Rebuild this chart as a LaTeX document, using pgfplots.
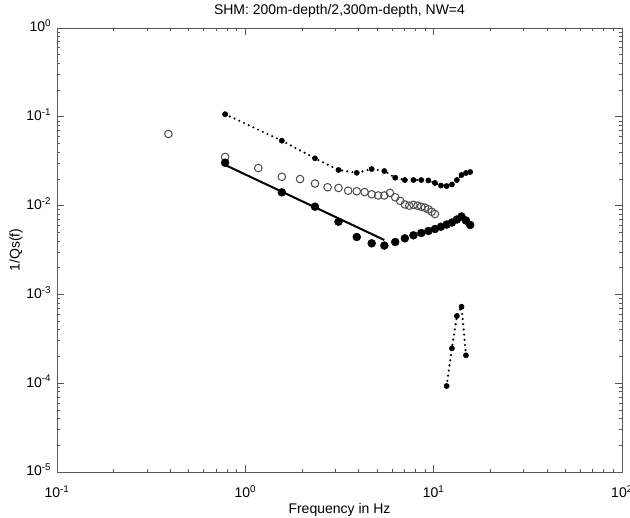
\documentclass[border=0pt]{standalone}
\usepackage{fontspec}
\setmainfont{Liberation Sans}
\usepackage{pgfplots}
\pgfplotsset{compat=1.18}
\newcommand{\tf}{\fontsize{14}{16.8}\selectfont}
\newcommand{\sx}[1]{10\textsuperscript{#1}}
\begin{document}
\tf
\begin{tikzpicture}
\path[use as bounding box] (-57pt,-46pt) rectangle (573pt,472pt);
\begin{axis}[
  at={(0pt,0pt)}, anchor=south west,
  scale only axis, width=565pt, height=444pt,
  xmode=log, ymode=log,
  xmin=0.1, xmax=100, ymin=1e-5, ymax=1,
  xtick={0.1,1,10,100},
  xticklabels={\sx{-1},\sx{0},\sx{1},\sx{2}},
  ytick={1e-5,1e-4,1e-3,1e-2,1e-1,1},
  yticklabels={\sx{-5},\sx{-4},\sx{-3},\sx{-2},\sx{-1},\sx{0}},
  minor xtick={0.2,0.3,0.4,0.5,0.6,0.7,0.8,0.9,2,3,4,5,6,7,8,9,20,30,40,50,60,70,80,90},
  minor ytick={2e-5,3e-5,4e-5,5e-5,6e-5,7e-5,8e-5,9e-5,2e-4,3e-4,4e-4,5e-4,6e-4,7e-4,8e-4,9e-4,2e-3,3e-3,4e-3,5e-3,6e-3,7e-3,8e-3,9e-3,2e-2,3e-2,4e-2,5e-2,6e-2,7e-2,8e-2,9e-2,0.2,0.3,0.4,0.5,0.6,0.7,0.8,0.9},
  tick align=inside,
  xtick pos=both, ytick pos=both,
  major tick length=7pt, minor tick length=3.5pt,
  every tick/.style={black!65, line width=0.7pt},
  axis line style={black!65, line width=0.9pt},
  xticklabel style={font=\tf, anchor=base, yshift=-26pt},
  yticklabel style={font=\tf, anchor=base east, yshift=-4pt, xshift=-1pt},
  title={SHM: 200m-depth/2,300m-depth, NW=4},
  title style={font=\tf, at={(axis description cs:0.5,1)}, anchor=base, yshift=7pt},
  xlabel={Frequency in Hz},
  xlabel style={font=\tf, at={(axis description cs:0.5,0)}, anchor=base, yshift=-42pt},
  ylabel={1/Qs(f)},
  ylabel style={font=\tf, at={(axis description cs:-0.0726,0.5)}, anchor=center},
  clip=false,
]
% top dotted series
\addplot[black, line width=2.4pt, dash pattern=on 0pt off 5.2pt, line cap=round,
  mark=*, mark size=2.6pt, mark options={solid, fill=black, line width=0.5pt}]
coordinates {
(0.78125,0.107) (1.5625,0.0538) (2.34375,0.0341) (3.125,0.0252) (3.90625,0.0234)
(4.6875,0.0258) (5.46875,0.0245) (6.25,0.0206) (7.03125,0.0194) (7.8125,0.0194)
(8.59375,0.0194) (9.375,0.0192) (10.15625,0.0180) (10.9375,0.0168) (11.71875,0.0166)
(12.5,0.0173) (13.28125,0.0194) (14.0625,0.0221) (14.84375,0.0233) (15.625,0.0239)
};
% spike dotted series
\addplot[black, line width=2.4pt, dash pattern=on 0pt off 5.2pt, line cap=round,
  mark=*, mark size=2.6pt, mark options={solid, fill=black, line width=0.5pt}]
coordinates {
(11.71875,9.3e-5) (12.5,2.47e-4) (13.28125,5.71e-4) (14.0625,7.27e-4) (14.84375,2.06e-4)
};
% open circles
\addplot[only marks, mark=o, mark size=3.8pt, mark options={draw=black!70, line width=1pt}]
coordinates {
(0.390625,0.0640) (0.78125,0.0353) (1.171875,0.0265) (1.5625,0.0211) (1.953125,0.0199)
(2.34375,0.0177) (2.734375,0.0161) (3.125,0.0158) (3.515625,0.0147) (3.90625,0.0145)
(4.296875,0.0142) (4.6875,0.0134) (5.078125,0.0130) (5.46875,0.0130) (5.859375,0.0139)
(6.25,0.0124) (6.640625,0.0113) (7.03125,0.0103) (7.421875,0.00997) (7.8125,0.0102)
(8.203125,0.00997) (8.59375,0.00972) (8.984375,0.00947) (9.375,0.00908) (9.765625,0.00853)
(10.15625,0.00804)
};
% fitted line
\addplot[black, line width=2pt, no marks] coordinates {(0.78125,0.0287) (5.46875,0.0041)};
% filled circles
\addplot[only marks, mark=*, mark size=4pt, mark options={fill=black, draw=black}]
coordinates {
(0.78125,0.0304) (1.5625,0.0141) (2.34375,0.00972) (3.125,0.00659) (3.90625,0.00443)
(4.6875,0.00376) (5.46875,0.00355) (6.25,0.00389) (7.03125,0.00428) (7.8125,0.00463)
(8.59375,0.00491) (9.375,0.00518) (10.15625,0.00545) (10.9375,0.00578) (11.71875,0.00612)
(12.5,0.00645) (13.28125,0.00697) (14.0625,0.00754) (14.84375,0.00679) (15.625,0.00605)
};
\end{axis}
\end{tikzpicture}
\end{document}
